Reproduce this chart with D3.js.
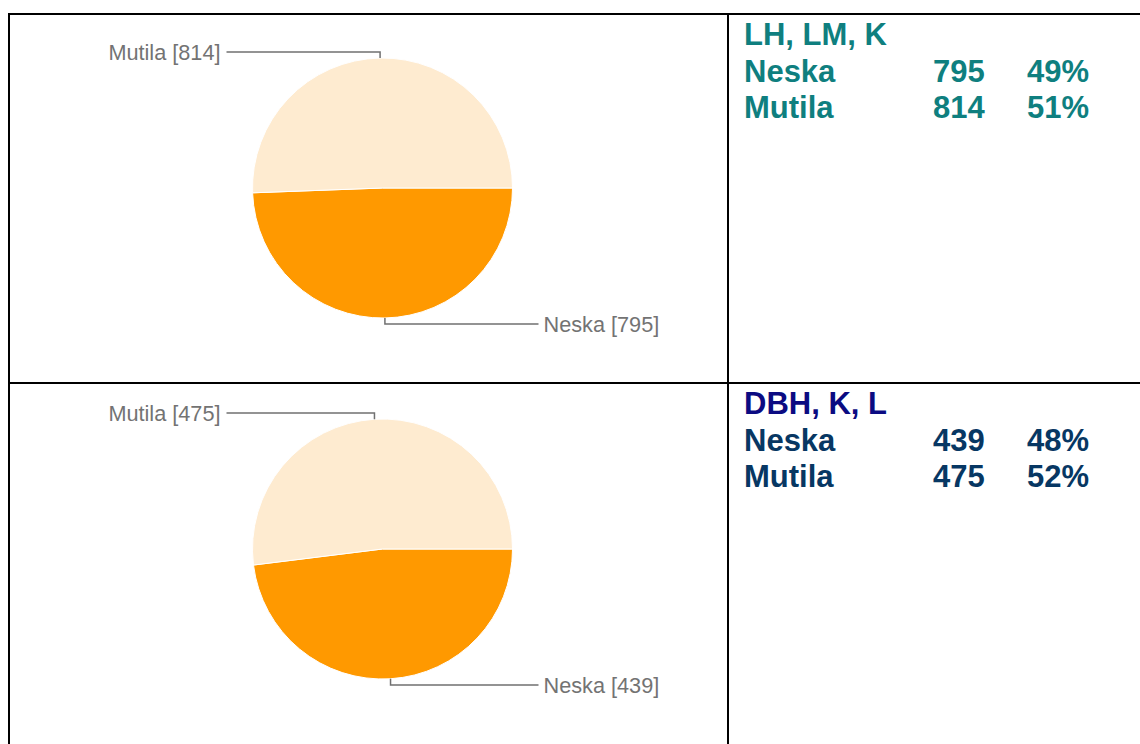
<!DOCTYPE html>
<html lang="en">
<head>
<meta charset="utf-8">
<title>Neska / Mutila</title>
<script src="https://cdn.jsdelivr.net/npm/d3@7"></script>
<style>
  body { margin: 0; background: #fff; }
  svg { display: block; font-family: "Liberation Sans", Arial, sans-serif; }
  .border { stroke: #000; stroke-width: 2; }
  .leader { fill: none; stroke: #707070; stroke-width: 1.5; }
  .plabel { fill: #737373; font-size: 21.7px; }
  .side { font-weight: bold; font-size: 31px; }
</style>
</head>
<body>
<div id="chart"></div>
<script>
// data
var groups = ["LH, LM, K", "DBH, K, L"];
var categories = ["Neska", "Mutila"];
var valuesLH = [795, 814];
var valuesDBH = [439, 475];
var seriesValues = [valuesLH, valuesDBH];

// layout
var W = 1140, H = 744;
var rowTop = [14, 383];
var pieCy = [188, 549];
var pieCx = 382.5, radius = 130;
var sliceColor = d3.scaleOrdinal().domain(categories).range(["#ff9900", "#feebd0"]);
var titleColor = ["#0f7f7f", "#0b0b82"];
var rowColor = ["#0f7f7f", "#073763"];

var svg = d3.select("#chart").append("svg")
    .attr("width", W)
    .attr("height", H);

svg.append("rect").attr("width", W).attr("height", H).attr("fill", "#fff");

// table borders
svg.append("line").attr("class", "border").attr("x1", 9).attr("x2", W).attr("y1", rowTop[0]).attr("y2", rowTop[0]);
svg.append("line").attr("class", "border").attr("x1", 9).attr("x2", W).attr("y1", rowTop[1]).attr("y2", rowTop[1]);
svg.append("line").attr("class", "border").attr("x1", 9).attr("x2", 9).attr("y1", rowTop[0] - 1).attr("y2", H);
svg.append("line").attr("class", "border").attr("x1", 728).attr("x2", 728).attr("y1", rowTop[0] - 1).attr("y2", H);

var pie = d3.pie().sort(null)
    .startAngle(Math.PI / 2)
    .endAngle(Math.PI / 2 + 2 * Math.PI);
var arc = d3.arc().innerRadius(0).outerRadius(radius);

seriesValues.forEach(function(vals, gi) {
  var data = categories.map(function(c, i) { return {name: c, value: vals[i]}; });
  var total = d3.sum(vals);
  var arcs = pie.value(function(d) { return d.value; })(data);

  var g = svg.append("g")
      .attr("transform", "translate(" + pieCx + "," + pieCy[gi] + ")");

  g.selectAll("path.slice")
      .data(arcs)
    .enter().append("path")
      .attr("class", "slice")
      .attr("d", arc)
      .attr("fill", function(d) { return sliceColor(d.data.name); })
      .attr("stroke", "#fff")
      .attr("stroke-width", 1);

  // leader lines + labels
  arcs.forEach(function(a) {
    var mid = (a.startAngle + a.endAngle) / 2;
    var px = radius * Math.sin(mid), py = -radius * Math.cos(mid);
    var top = py < 0;
    var ly = top ? -136 : 136;
    var lx = top ? -156 : 156;
    g.append("path")
        .attr("class", "leader")
        .attr("d", "M" + px + "," + py + "V" + ly + "H" + lx);
    g.append("text")
        .attr("class", "plabel")
        .attr("x", top ? lx - 6 : lx + 5)
        .attr("y", ly + 8)
        .attr("text-anchor", top ? "end" : "start")
        .text(a.data.name + " [" + a.data.value + "]");
  });

  // side table
  var side = svg.append("g").attr("transform", "translate(744," + rowTop[gi] + ")");
  side.append("text")
      .attr("class", "side")
      .attr("y", 30.5)
      .attr("fill", titleColor[gi])
      .text(groups[gi]);
  data.forEach(function(d, i) {
    var y = 67.5 + i * 36.5;
    var row = side.append("g").attr("fill", rowColor[gi]);
    row.append("text").attr("class", "side").attr("y", y).text(d.name);
    row.append("text").attr("class", "side").attr("x", 189).attr("y", y).text(d.value);
    row.append("text").attr("class", "side").attr("x", 283).attr("y", y)
        .text(Math.round(d.value / total * 100) + "%");
  });
});
</script>
</body>
</html>
